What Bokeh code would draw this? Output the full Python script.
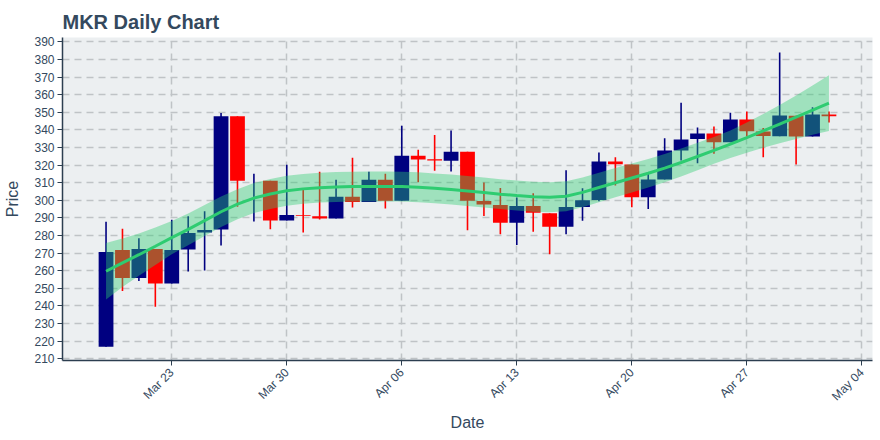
import pandas as pd
import numpy as np
from math import pi
from bokeh.plotting import figure
from bokeh.models import ColumnDataSource, Range1d, SingleIntervalTicker, FixedTicker, DatetimeTickFormatter
from bokeh.embed import file_html
from bokeh.resources import INLINE

# ---- data ----
start_date = "2020-03-19"
end_date = "2020-05-02"

opens = [216.8, 271.8, 255.9, 272.4, 252.7, 272.0, 281.7, 283.4, 347.7, 311.1,
         311.1, 288.5, 291.7, 291.0, 289.7, 302.0, 299.0, 311.7, 299.7, 325.3,
         323.3, 322.5, 327.6, 299.6, 297.4, 287.3, 296.8, 292.6, 285.0, 296.2,
         300.2, 322.0, 320.3, 301.7, 311.8, 328.3, 334.8, 338.0, 333.0, 345.9,
         339.1, 336.4, 348.0, 336.2, 348.7]
highs = [287.8, 283.8, 278.5, 272.4, 288.9, 291.0, 293.8, 349.6, 347.7, 315.1,
         311.1, 320.2, 306.9, 316.2, 311.7, 324.2, 316.2, 315.1, 342.4, 328.7,
         337.1, 339.6, 327.6, 310.1, 307.0, 301.6, 304.0, 292.6, 317.1, 306.8,
         327.2, 324.5, 320.3, 315.0, 335.3, 355.4, 341.4, 342.0, 349.8, 350.4,
         341.1, 384.0, 348.0, 352.9, 350.4]
lows = [216.8, 248.5, 254.2, 239.6, 252.7, 259.5, 260.2, 274.3, 296.3, 288.0,
        283.6, 288.5, 281.7, 289.1, 289.7, 295.9, 299.0, 295.3, 299.7, 310.2,
        316.8, 316.4, 283.0, 291.1, 280.7, 274.6, 282.2, 269.3, 280.7, 288.4,
        299.5, 308.4, 296.0, 295.1, 311.8, 322.6, 321.1, 326.4, 333.0, 336.2,
        324.4, 336.4, 320.3, 336.2, 344.2]
closes = [270.7, 255.9, 272.4, 252.7, 271.8, 281.5, 283.2, 347.7, 311.1, 311.1,
          288.5, 291.7, 291.2, 289.7, 302.0, 299.0, 311.7, 299.7, 325.3, 323.2,
          322.6, 327.6, 299.8, 297.6, 287.3, 296.8, 293.0, 285.0, 296.2, 300.0,
          322.0, 320.5, 301.7, 311.8, 328.3, 334.6, 338.0, 333.0, 345.9, 339.2,
          336.6, 348.2, 336.2, 348.7, 347.8]

trend = [259.7, 264.5, 269.1, 273.9, 278.8, 283.5, 288.5, 293.5, 297.8, 301.3,
         303.6, 305.4, 306.5, 307.2, 307.6, 307.8, 307.9, 307.9, 307.8, 307.4,
         306.8, 306.1, 305.3, 304.4, 303.5, 302.7, 302.0, 301.7, 302.3, 304.5,
         307.3, 310.0, 312.7, 315.4, 318.3, 321.5, 324.9, 328.4, 331.9, 335.6,
         339.4, 343.3, 347.2, 351.2, 355.2]
band_half = [16.0, 13.8, 12.0, 10.6, 9.4, 9.0, 8.8, 8.6, 8.5, 8.5,
             8.5, 8.5, 8.5, 8.5, 8.5, 8.5, 8.5, 8.5, 8.5, 8.5,
             8.5, 8.5, 8.5, 8.5, 8.5, 8.5, 8.5, 8.5, 8.5, 8.5,
             8.4, 8.3, 8.2, 8.1, 8.0, 7.9, 7.8, 7.6, 7.8, 8.6,
             9.6, 10.9, 12.4, 14.0, 15.8]

x_tick_dates = ["2020-03-23", "2020-03-30", "2020-04-06", "2020-04-13",
                "2020-04-20", "2020-04-27", "2020-05-04"]

title_text = "MKR Daily Chart"
x_label = "Date"
y_label = "Price"

# ---- build ----
dates = pd.date_range(start_date, end_date, freq="D")
df = pd.DataFrame({"date": dates, "open": opens, "high": highs, "low": lows,
                   "close": closes, "trend": trend, "half": band_half})
df["top"] = df[["open", "close"]].max(axis=1)
df["bottom"] = df[["open", "close"]].min(axis=1)
df["color"] = np.where(df["close"] >= df["open"], "navy", "red")
df["upper"] = df["trend"] + df["half"]
df["lower"] = df["trend"] - df["half"]
src = ColumnDataSource(df)

day = pd.Timedelta(days=1)
x_start = dates[0] - 2.65 * day
x_end = dates[-1] + 2.65 * day

TEXT = "#34495e"
AX = "#2c3e50"
FONT = "Liberation Sans"

p = figure(x_axis_type="datetime", width=880, height=440,
           x_range=Range1d(x_start, x_end), y_range=Range1d(209.0, 392.5),
           toolbar_location=None, output_backend="svg",
           min_border_left=62, min_border_right=8, min_border_top=37,
           min_border_bottom=80,
           background_fill_color="#ECEFF1", border_fill_color="white")
p.outline_line_color = None

p.title.text = title_text
p.title.text_font = FONT
p.title.text_font_size = "20px"
p.title.text_font_style = "bold"
p.title.text_color = TEXT
p.title.align = "left"
p.title.standoff = 10

bar_w = 0.9 * 24 * 60 * 60 * 1000
p.segment(x0="date", y0="high", x1="date", y1="low", color="color",
          line_width=1.6, source=src)
p.vbar(x="date", width=bar_w, top="top", bottom="bottom", fill_color="color",
       line_color=None, source=src)
p.varea(x="date", y1="lower", y2="upper", fill_color="#2ecc71",
        fill_alpha=0.4, source=src)
p.line(x="date", y="trend", line_color="#2ecc71", line_width=3, source=src)

p.yaxis.ticker = SingleIntervalTicker(interval=10)
p.xaxis.ticker = FixedTicker(ticks=[pd.Timestamp(d).value / 1e6 for d in x_tick_dates])
p.xaxis.formatter = DatetimeTickFormatter(days="%b %d", months="%b %d")
p.xaxis.major_label_orientation = pi / 4

for ax in (p.xaxis, p.yaxis):
    ax.axis_line_color = AX
    ax.axis_line_width = 1.5
    ax.major_tick_line_color = AX
    ax.major_tick_out = 5
    ax.major_tick_in = 0
    ax.minor_tick_line_color = None
    ax.major_label_text_font = FONT
    ax.major_label_text_font_size = "12px"
    ax.major_label_text_color = TEXT
    ax.axis_label_text_font = FONT
    ax.axis_label_text_font_size = "16px"
    ax.axis_label_text_font_style = "normal"
    ax.axis_label_text_color = TEXT
p.xaxis.axis_label = x_label
p.yaxis.axis_label = y_label
p.yaxis.major_label_standoff = 3
p.yaxis.axis_label_standoff = 10
p.xaxis.major_label_standoff = 5
p.xaxis.axis_label_standoff = 3

for g in (p.xgrid, p.ygrid):
    g.grid_line_color = "#bfc3c6"
    g.grid_line_width = 1.5
    g.grid_line_dash = "7 5"

open("out.html", "w").write(file_html(p, INLINE))
